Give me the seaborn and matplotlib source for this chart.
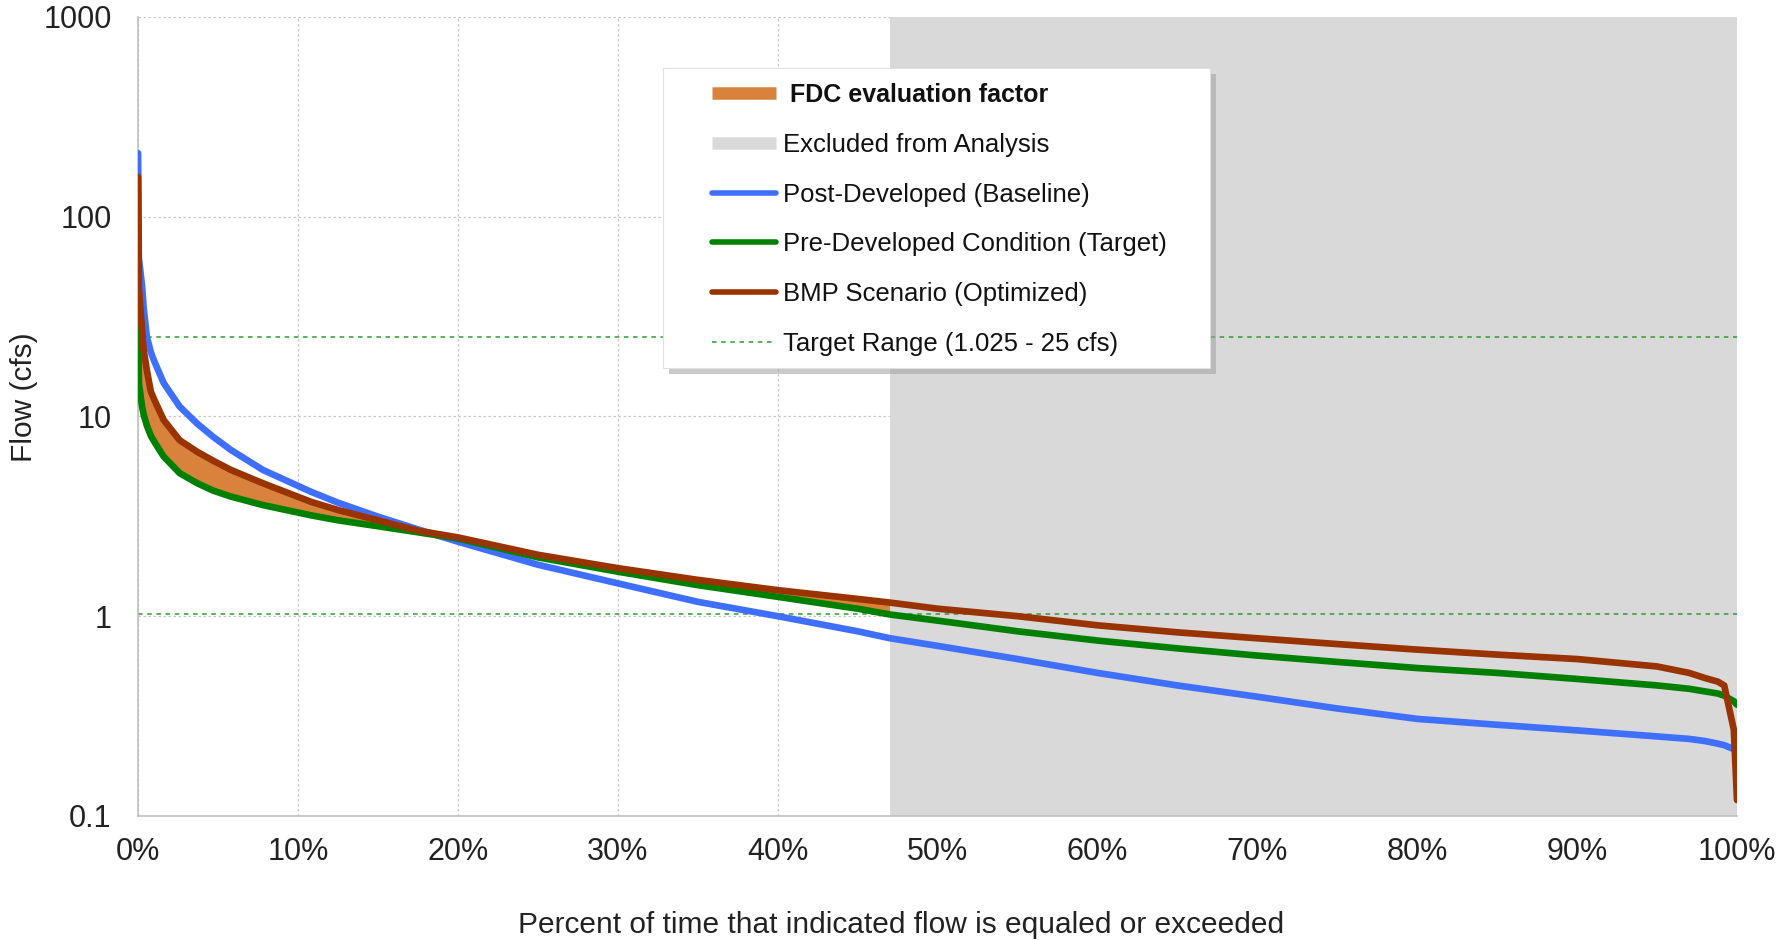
import numpy as np
import matplotlib
matplotlib.use('Agg')
import matplotlib.pyplot as plt
from matplotlib.lines import Line2D
from matplotlib.patches import Rectangle
from matplotlib.ticker import FixedLocator, FuncFormatter, NullLocator
import seaborn as sns

# Percent of time flow is equaled or exceeded (x positions, %)
pct = np.array([0, 0.05, 0.25, 0.35, 0.55, 0.8, 1.0, 1.6, 2.6, 3.7, 4.7, 5.8, 7.8, 10.8, 12.5, 15, 17.5, 20,
                25, 30, 35, 40, 45, 47, 50, 55, 60, 65, 70, 75, 80, 85, 90, 95,
                97, 98, 98.8, 99.2, 99.8, 100])

# Flow values (cfs)
post_developed = np.array([208, 62, 45, 35, 25, 21, 19, 14.7, 11.2, 9.2, 7.9, 6.8, 5.4, 4.2, 3.7, 3.15, 2.72, 2.36,
                           1.81, 1.46, 1.18, 1.0, 0.84, 0.776, 0.71, 0.61, 0.52, 0.45, 0.395, 0.345, 0.306, 0.286, 0.268, 0.25,
                           0.243, 0.237, 0.23, 0.226, 0.216, 0.212])
pre_developed = np.array([29, 14.7, 11.2, 10.2, 9.0, 8.0, 7.5, 6.3, 5.2, 4.63, 4.25, 3.97, 3.6, 3.2, 3.02, 2.82, 2.63, 2.45,
                          1.97, 1.67, 1.43, 1.25, 1.09, 1.02, 0.95, 0.84, 0.755, 0.69, 0.635, 0.59, 0.55, 0.52, 0.485, 0.45,
                          0.433, 0.42, 0.41, 0.40, 0.375, 0.36])
bmp_scenario = np.array([158, 44, 27, 21.5, 17, 13.3, 12.2, 9.6, 7.6, 6.65, 6.0, 5.4, 4.63, 3.74, 3.4, 3.02, 2.68, 2.48,
                         2.03, 1.74, 1.52, 1.35, 1.22, 1.17, 1.09, 1.0, 0.90, 0.83, 0.775, 0.725, 0.68, 0.642, 0.61, 0.56,
                         0.52, 0.49, 0.47, 0.45, 0.27, 0.12])

target_range = [1.025, 25]
excluded_start = 47

y_ticks = [0.1, 1, 10, 100, 1000]
y_tick_labels = ['0.1', '1', '10', '100', '1000']
x_ticks = list(range(0, 101, 10))

sns.set_style('white')
plt.rcParams['font.family'] = ['Liberation Sans', 'DejaVu Sans']

fig = plt.figure(figsize=(17.77, 9.40), dpi=100)
ax = fig.add_axes([0.0777, 0.132, 0.8998, 0.850])

# excluded area
ax.axvspan(excluded_start, 100, color='#D9D9D9', zorder=1, lw=0)

# FDC evaluation factor (area between BMP and target, analysed part only)
mask = (pct <= excluded_start) & (bmp_scenario >= pre_developed)
ax.fill_between(pct, pre_developed, bmp_scenario, where=mask, color='#D8823C', lw=0, zorder=2)

# target range lines
for t in target_range:
    ax.axhline(t, color='#2E9E2E', lw=1.1, ls=(0, (3, 3)), zorder=2.5)

sns.lineplot(x=pct, y=post_developed, ax=ax, color='#3F6FFF', lw=4.8, zorder=3)
sns.lineplot(x=pct, y=pre_developed, ax=ax, color='#008000', lw=4.8, zorder=3)
sns.lineplot(x=pct, y=bmp_scenario, ax=ax, color='#993300', lw=4.8, zorder=4)

ax.set_yscale('log')
ax.set_ylim(0.1, 1000)
ax.set_xlim(0, 100)
ax.yaxis.set_major_locator(FixedLocator(y_ticks))
ax.yaxis.set_major_formatter(FuncFormatter(lambda v, p: y_tick_labels[y_ticks.index(v)] if v in y_ticks else ''))
ax.yaxis.set_minor_locator(NullLocator())
ax.set_xticks(x_ticks)
ax.set_xticklabels([f'{v}%' for v in x_ticks])

ax.set_axisbelow(True)
ax.grid(True, color='#C8C8C8', lw=0.9, ls=(0, (2, 2)), zorder=0.5)

for side in ['top', 'right']:
    ax.spines[side].set_visible(False)
for side in ['left', 'bottom']:
    ax.spines[side].set_color('#C0C0C0')
    ax.spines[side].set_linewidth(1.2)

ax.tick_params(axis='both', which='major', direction='out', length=7, width=1, color='#C0C0C0',
               labelsize=22, labelcolor='#222222')
ax.tick_params(axis='x', pad=8)
ax.tick_params(axis='y', pad=12)

ax.set_xlabel('Percent of time that indicated flow is equaled or exceeded', fontsize=21.5, color='#222222',
              labelpad=32, x=0.477)
ax.set_ylabel('Flow (cfs)', fontsize=21.5, color='#222222', labelpad=4, y=0.524)

# legend box with shadow
box_x0, box_x1 = 0.3283, 0.6704
box_y0, box_y1 = 0.5607, 0.936
shadow = Rectangle((box_x0 + 0.004, box_y0 - 0.008), box_x1 - box_x0, box_y1 - box_y0,
                   transform=ax.transAxes, facecolor='#A0A0A0', alpha=0.55, lw=0, zorder=8)
box = Rectangle((box_x0, box_y0), box_x1 - box_x0, box_y1 - box_y0,
                transform=ax.transAxes, facecolor='white', edgecolor='#E0E0E0', lw=0.8, zorder=9)
ax.add_patch(shadow)
ax.add_patch(box)

handles = [
    Line2D([], [], color='#D8823C', lw=9, solid_capstyle='butt'),
    Line2D([], [], color='#D9D9D9', lw=9, solid_capstyle='butt'),
    Line2D([], [], color='#3F6FFF', lw=4),
    Line2D([], [], color='#008000', lw=4),
    Line2D([], [], color='#993300', lw=4),
    Line2D([], [], color='#2E9E2E', lw=1.1, ls=(0, (3, 3))),
]
labels = [' FDC evaluation factor', 'Excluded from Analysis', 'Post-Developed (Baseline)',
          'Pre-Developed Condition (Target)', 'BMP Scenario (Optimized)', 'Target Range (1.025 - 25 cfs)']
leg = ax.legend(handles, labels, loc='upper left', bbox_to_anchor=(0.359, 0.917), borderaxespad=0,
                fontsize=18.5, frameon=False, handlelength=2.5, handletextpad=0.27,
                labelspacing=1.0, borderpad=0)
leg.get_texts()[0].set_fontweight('bold')
leg.get_texts()[0].set_fontsize(18)
for t in leg.get_texts():
    t.set_color('#111111')
leg.set_zorder(10)

plt.savefig('out.png', dpi=100)
